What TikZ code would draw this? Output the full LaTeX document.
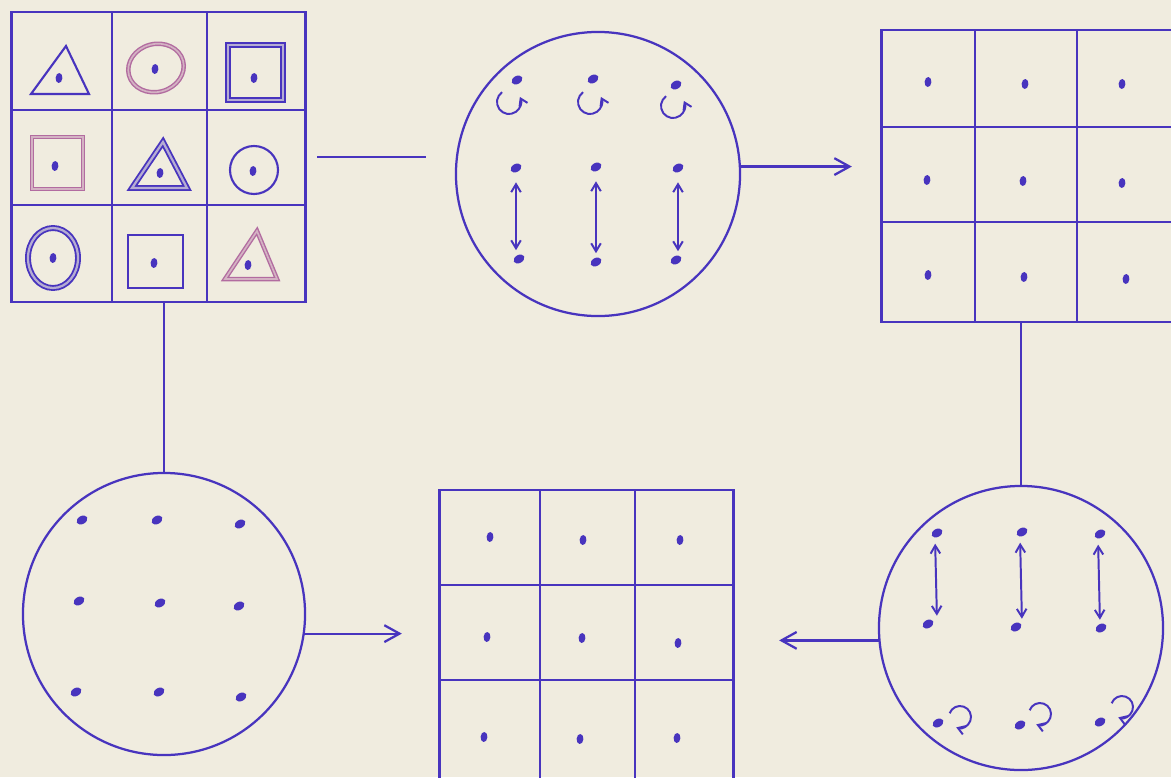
\documentclass[tikz,border=0pt]{standalone}
\usepackage{xcolor}
\usepackage{tikz}
\usetikzlibrary{arrows.meta,shapes.geometric}
\definecolor{ink}{RGB}{72,52,190}
\definecolor{mauve}{RGB}{178,108,160}
\definecolor{paper}{RGB}{240,236,223}
\tikzset{
  gridbox/.style={draw=ink, line width=2pt, inner sep=0pt, outer sep=0pt},
  disc/.style={circle, draw=ink, line width=1.6pt, inner sep=0pt, outer sep=0pt},
  blob/.style={ellipse, fill=ink, inner sep=0pt, outer sep=0pt, minimum width=0.29cm, minimum height=0.2cm, rotate=30},
  celldot/.style={blob, minimum width=0.25cm, minimum height=0.17cm, rotate=55},
  gridline/.style={ink, line width=2pt},
  link/.style={ink, line width=1.6pt},
  arrowline/.style={-{Straight Barb[length=0.38cm, width=0.42cm]}},
  twoway/.style={ink, line width=1.4pt, {Straight Barb[length=0.2cm, width=0.24cm]}-{Straight Barb[length=0.2cm, width=0.24cm]}},
  spin/.style={ink, line width=1.4pt, -{Straight Barb[length=0.17cm, width=0.22cm]}},
  outline/.style={line width=1.5pt},
  inkband/.style={ink, line width=1.3pt, double distance=1.6pt, double=ink!35!paper},
  pinkband/.style={mauve, line width=1pt, double distance=1.2pt, double=mauve!45!paper}
}
\begin{document}
\begin{tikzpicture}[x=0.025cm, y=-0.025cm]
        \fill[paper] (0,0) rectangle (1171,777);
        \useasboundingbox (0,0) rectangle (1171,777);
        \clip (0,0) rectangle (1171,777);
        % grid of shapes
        \node[gridbox, minimum width=7.33cm, minimum height=7.25cm] (shapes) at (158.5,157) {};
        \foreach \x in {112,207} { \draw[gridline] (\x,12) -- (\x,302); }
        \foreach \y in {110,205} { \draw[gridline] (12,\y) -- (305,\y); }
        \draw[ink, outline] (31,94) -- (66,46) -- (89,94) -- cycle;
        \draw[pinkband, rotate around={15:(156,68)}] (156,68) ellipse[x radius=28, y radius=24];
        \draw[inkband] (228,45) rectangle (283,100);
        \draw[pinkband] (32,137) rectangle (83,189);
        \draw[inkband] (132,188) -- (163,142) -- (187,188) -- cycle;
        \draw[ink, outline] (254,170) circle[radius=24];
        \draw[inkband] (53,258) ellipse[x radius=25, y radius=30];
        \draw[ink, outline] (128,235) rectangle (183,288);
        \draw[pinkband] (225,279) -- (257,231) -- (277,279) -- cycle;
        \foreach \p [count=\i] in {(59,78),(155,69),(254,78),(55,166),(160,173),(253,171),(53,258),(154,263),(248,265)} {
            \node[celldot] (s\i) at \p {};
        }
        % circle with turning and swapping dots
        \node[disc, minimum size=7.1cm] (motionA) at (598,174) {};
        \foreach \i/\tx/\ty/\lx/\ly/\mx/\my/\bx/\by in {1/517/80/509/102/516/168/519/259, 2/593/79/590/102/596/167/596/262, 3/676/85/673/106/678/168/676/260} {
            \node[blob] (at\i) at (\tx,\ty) {};
            \draw[spin] (\lx,\ly) ++(235:12) arc[start angle=235, end angle=-25, radius=12];
            \node[blob] (am\i) at (\mx,\my) {};
            \node[blob] (ab\i) at (\bx,\by) {};
            \draw[twoway, shorten <=0.25cm, shorten >=0.22cm] (am\i) -- (am\i |- ab\i);
        }
        % first grid of dots
        \node[gridbox, minimum width=7.33cm, minimum height=7.3cm] (dotsA) at (1028.5,176) {};
        \foreach \x in {975,1077} { \draw[gridline] (\x,30) -- (\x,322); }
        \foreach \y in {127,222} { \draw[gridline] (882,\y) -- (1175,\y); }
        \foreach \p [count=\i] in {(928,82),(1025,84),(1122,84),(927,180),(1023,181),(1122,183),(928,275),(1024,277),(1126,279)} {
            \node[celldot] (da\i) at \p {};
        }
        % circle with swapping and turning dots
        \node[disc, minimum size=7.1cm] (motionB) at (1021,628) {};
        \foreach \i/\tx/\ty/\bx/\by/\lx/\ly/\cx/\cy in {1/937/533/928/624/938/723/960/717, 2/1022/532/1016/627/1020/725/1040/714, 3/1100/534/1101/628/1100/722/1122/707} {
            \node[blob] (bt\i) at (\tx,\ty) {};
            \node[blob] (bb\i) at (\bx,\by) {};
            \draw[twoway, shorten <=0.18cm, shorten >=0.12cm] (bt\i.south -| bt\i) ++(-2,0) -- (bb\i.north -| bt\i) ;
            \node[blob] (bl\i) at (\lx,\ly) {};
            \draw[spin] (\cx,\cy) ++(200:11) arc[start angle=200, end angle=470, radius=11];
        }
        % second grid of dots
        \node[gridbox, minimum width=7.33cm, minimum height=7.3cm] (dotsB) at (586.5,636) {};
        \foreach \x in {540,635} { \draw[gridline] (\x,490) -- (\x,782); }
        \foreach \y in {585,680} { \draw[gridline] (440,\y) -- (733,\y); }
        \foreach \p [count=\i] in {(490,537),(583,540),(680,540),(487,637),(582,638),(678,643),(484,737),(580,739),(677,738)} {
            \node[celldot] (db\i) at \p {};
        }
        % circle of still dots
        \node[disc, minimum size=7.05cm] (plain) at (164,614) {};
        \foreach \p [count=\i] in {(82,520),(157,520),(240,524),(79,601),(160,603),(239,606),(76,692),(159,692),(241,697)} {
            \node[blob] (pd\i) at \p {};
        }
        % connectors
        \draw[link, shorten <=0.3cm, shorten >=0.75cm] (shapes.east) -- (shapes.east -| motionA.west);
        \draw[link, arrowline, shorten >=0.75cm] (motionA.3) -- (motionA.3 -| dotsA.west);
        \draw[link] (motionB.north |- dotsA.south) -- (motionB.north);
        \draw[link, arrowline, shorten >=1.15cm] (motionB.185) -- (motionB.185 -| dotsB.east);
        \draw[link] (plain.north |- shapes.south) -- (plain.north);
        \draw[link, arrowline, shorten >=0.95cm] (plain.-8) -- (plain.-8 -| dotsB.west);
\end{tikzpicture}
\end{document}
